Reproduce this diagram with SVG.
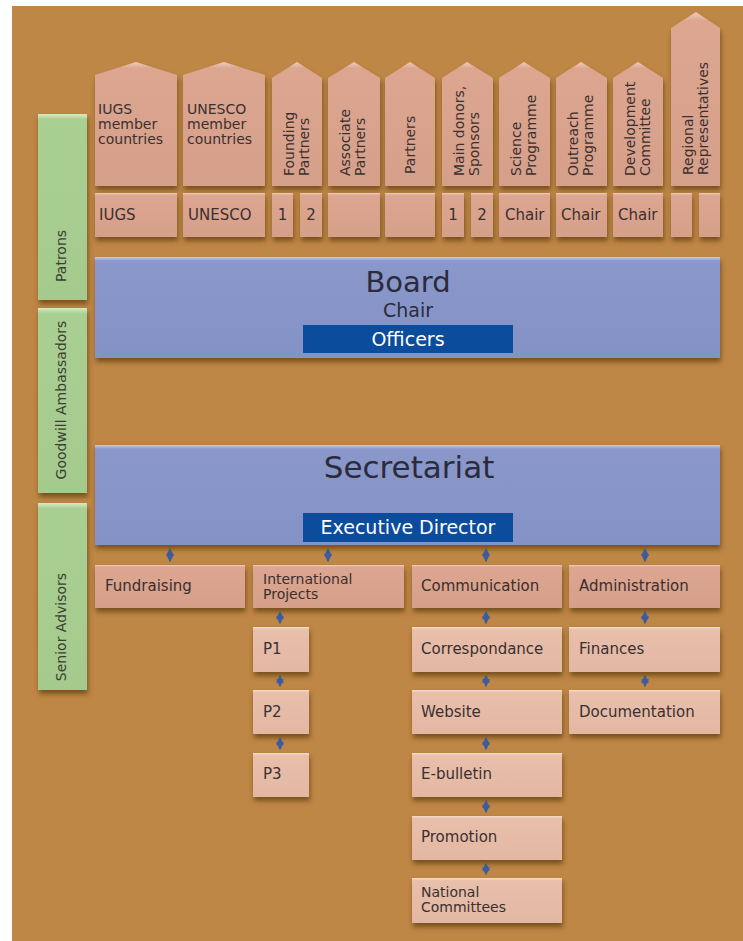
<svg xmlns="http://www.w3.org/2000/svg" width="743" height="941" viewBox="0 0 743 941">
<defs>
<filter id="sh" x="-20%" y="-20%" width="140%" height="150%">
<feDropShadow dx="1" dy="4" stdDeviation="2.5" flood-color="#4a2a05" flood-opacity="0.6"/>
</filter>
<marker id="ah" viewBox="0 0 6 6" refX="5" refY="3" markerWidth="4" markerHeight="4" orient="auto-start-reverse">
<path d="M0,0 L6,3 L0,6 z" fill="#3d5c9c"/>
</marker>
<linearGradient id="gPink" x1="0" y1="0" x2="0" y2="1">
<stop offset="0" stop-color="#f1cdbb"/><stop offset="0.05" stop-color="#dca691"/><stop offset="1" stop-color="#d69f89"/>
</linearGradient>
<linearGradient id="gLight" x1="0" y1="0" x2="0" y2="1">
<stop offset="0" stop-color="#f6dccd"/><stop offset="0.06" stop-color="#e8bfab"/><stop offset="1" stop-color="#e3b8a3"/>
</linearGradient>
<linearGradient id="gBlue" x1="0" y1="0" x2="0" y2="1">
<stop offset="0" stop-color="#c3cbec"/><stop offset="0.04" stop-color="#8a97cb"/><stop offset="1" stop-color="#8592c6"/>
</linearGradient>
<linearGradient id="gGreen" x1="0" y1="0" x2="0" y2="1">
<stop offset="0" stop-color="#d6ecc4"/><stop offset="0.03" stop-color="#a9cf92"/><stop offset="1" stop-color="#a4ca8d"/>
</linearGradient>
</defs>
<style>
.pk{fill:url(#gPink);filter:url(#sh);stroke-linejoin:round}
.lt{fill:url(#gLight);filter:url(#sh)}
.bl{fill:url(#gBlue);filter:url(#sh)}
.gr{fill:url(#gGreen);filter:url(#sh)}
.db{fill:#0b4c9c}
text{font-family:"DejaVu Sans","Verdana",sans-serif;fill:#3a3030}
.t14{font-size:14px}
.t15{font-size:15px}
.r14{font-size:14px}
.big{font-size:30px;fill:#2b2b3a}
.mid{font-size:19px;fill:#2b2b3a}
.wh{font-size:19px;fill:#ffffff}
.gt{font-size:14px;fill:#3a4030}
.cn{stroke:#3d5c9c;stroke-width:2;stroke-dasharray:2 1.5;fill:none;marker-start:url(#ah);marker-end:url(#ah)}
</style>
<rect x="12" y="6" width="731" height="935" fill="#bf8745"/>

<!-- side bars -->
<g id="patrons"><rect class="gr" x="38" y="114" width="49" height="186"/><text class="gt" transform="translate(66,282) rotate(-90)">Patrons</text></g>
<g id="goodwill"><rect class="gr" x="38" y="308" width="49" height="185"/><text class="gt" text-anchor="middle" transform="translate(66,400) rotate(-90)">Goodwill Ambassadors</text></g>
<g id="senior"><rect class="gr" x="38" y="503" width="49" height="187"/><text class="gt" text-anchor="middle" transform="translate(66,627) rotate(-90)">Senior Advisors</text></g>

<!-- top headers -->
<g id="h-iugs"><path class="pk" d="M95,75 L136,62 L177,75 L177,186 L95,186 Z"/><text class="t14" x="98" y="114">IUGS<tspan x="98" y="129">member</tspan><tspan x="98" y="144">countries</tspan></text></g>
<g id="h-unesco"><path class="pk" d="M183,75 L224,62 L265,75 L265,186 L183,186 Z"/><text class="t14" x="187" y="114">UNESCO<tspan x="187" y="129">member</tspan><tspan x="187" y="144">countries</tspan></text></g>
<g id="h-founding"><path class="pk" d="M272,78 L297,62 L322,78 L322,186 L272,186 Z"/><text class="r14" transform="translate(297,176) rotate(-90)"><tspan x="0" y="-3">Founding</tspan><tspan x="0" y="12">Partners</tspan></text></g>
<g id="h-associate"><path class="pk" d="M328,78 L354,62 L380,78 L380,186 L328,186 Z"/><text class="r14" transform="translate(354,176) rotate(-90)"><tspan x="0" y="-4">Associate</tspan><tspan x="0" y="11">Partners</tspan></text></g>
<g id="h-partners"><path class="pk" d="M385,78 L410,62 L435,78 L435,186 L385,186 Z"/><text class="r14" transform="translate(410,174) rotate(-90)"><tspan x="0" y="5">Partners</tspan></text></g>
<g id="h-donors"><path class="pk" d="M442,78 L467,62 L493,78 L493,186 L442,186 Z"/><text class="r14" transform="translate(467,176) rotate(-90)"><tspan x="0" y="-3">Main donors,</tspan><tspan x="0" y="12">Sponsors</tspan></text></g>
<g id="h-science"><path class="pk" d="M499,78 L524,62 L550,78 L550,186 L499,186 Z"/><text class="r14" transform="translate(524,176) rotate(-90)"><tspan x="0" y="-3">Science</tspan><tspan x="0" y="12">Programme</tspan></text></g>
<g id="h-outreach"><path class="pk" d="M556,78 L581,62 L607,78 L607,186 L556,186 Z"/><text class="r14" transform="translate(581,176) rotate(-90)"><tspan x="0" y="-3">Outreach</tspan><tspan x="0" y="12">Programme</tspan></text></g>
<g id="h-development"><path class="pk" d="M613,78 L638,62 L663,78 L663,186 L613,186 Z"/><text class="r14" transform="translate(638,176) rotate(-90)"><tspan x="0" y="-3">Development</tspan><tspan x="0" y="12">Committee</tspan></text></g>
<g id="h-regional"><path class="pk" d="M671,28 L696,12 L720,28 L720,186 L671,186 Z"/><text class="r14" transform="translate(696,175) rotate(-90)"><tspan x="0" y="-3">Regional</tspan><tspan x="0" y="12">Representatives</tspan></text></g>

<!-- second row -->
<g id="b-iugs"><rect class="pk" x="95" y="193" width="82" height="44"/><text class="t15" x="99" y="220">IUGS</text></g>
<g id="b-unesco"><rect class="pk" x="183" y="193" width="82" height="44"/><text class="t15" x="188" y="220">UNESCO</text></g>
<g id="b-f1"><rect class="pk" x="272" y="193" width="21" height="44"/><text class="t15" x="282.5" y="220" text-anchor="middle">1</text></g>
<g id="b-f2"><rect class="pk" x="300" y="193" width="22" height="44"/><text class="t15" x="311" y="220" text-anchor="middle">2</text></g>
<g id="b-assoc"><rect class="pk" x="328" y="193" width="52" height="44"/></g>
<g id="b-partners"><rect class="pk" x="385" y="193" width="50" height="44"/></g>
<g id="b-d1"><rect class="pk" x="442" y="193" width="22" height="44"/><text class="t15" x="453" y="220" text-anchor="middle">1</text></g>
<g id="b-d2"><rect class="pk" x="471" y="193" width="22" height="44"/><text class="t15" x="482" y="220" text-anchor="middle">2</text></g>
<g id="b-sci"><rect class="pk" x="499" y="193" width="51" height="44"/><text class="t15" x="505" y="220">Chair</text></g>
<g id="b-out"><rect class="pk" x="556" y="193" width="51" height="44"/><text class="t15" x="561" y="220">Chair</text></g>
<g id="b-dev"><rect class="pk" x="613" y="193" width="50" height="44"/><text class="t15" x="618" y="220">Chair</text></g>
<g id="b-r1"><rect class="pk" x="671" y="193" width="21" height="44"/></g>
<g id="b-r2"><rect class="pk" x="699" y="193" width="21" height="44"/></g>

<!-- board -->
<g id="board"><rect class="bl" x="95" y="257" width="625" height="101"/>
<text class="big" x="408" y="292" text-anchor="middle" style="font-size:29px">Board</text>
<text class="mid" x="408" y="317" text-anchor="middle">Chair</text>
<rect class="db" x="303" y="325" width="210" height="28"/>
<text class="wh" x="408" y="346" text-anchor="middle">Officers</text></g>

<!-- secretariat -->
<g id="secretariat"><rect class="bl" x="95" y="445" width="625" height="100"/>
<text class="big" x="409" y="478" text-anchor="middle" style="font-size:31px">Secretariat</text>
<rect class="db" x="303" y="513" width="210" height="29"/>
<text class="wh" x="408" y="534" text-anchor="middle">Executive Director</text></g>

<!-- level 2 -->
<g id="fundraising"><rect class="pk" x="95" y="565" width="150" height="43"/><text class="t15" x="105" y="591">Fundraising</text></g>
<g id="intl"><rect class="pk" x="253" y="565" width="151" height="43"/><text class="t14" x="263" y="584">International<tspan x="263" y="599">Projects</tspan></text></g>
<g id="communication"><rect class="pk" x="412" y="565" width="150" height="43"/><text class="t15" x="421" y="591">Communication</text></g>
<g id="administration"><rect class="pk" x="569" y="565" width="151" height="43"/><text class="t15" x="579" y="591">Administration</text></g>

<!-- level 3 -->
<g id="p1"><rect class="lt" x="253" y="627" width="56" height="45"/><text class="t15" x="263" y="654">P1</text></g>
<g id="p2"><rect class="lt" x="253" y="690" width="56" height="44"/><text class="t15" x="263" y="717">P2</text></g>
<g id="p3"><rect class="lt" x="253" y="753" width="56" height="44"/><text class="t15" x="263" y="779">P3</text></g>
<g id="correspondance"><rect class="lt" x="412" y="627" width="150" height="45"/><text class="t15" x="421" y="654">Correspondance</text></g>
<g id="website"><rect class="lt" x="412" y="690" width="150" height="44"/><text class="t15" x="421" y="717">Website</text></g>
<g id="ebulletin"><rect class="lt" x="412" y="753" width="150" height="44"/><text class="t15" x="421" y="779">E-bulletin</text></g>
<g id="promotion"><rect class="lt" x="412" y="816" width="150" height="44"/><text class="t15" x="421" y="842">Promotion</text></g>
<g id="national"><rect class="lt" x="412" y="878" width="150" height="45"/><text class="t14" x="421" y="897">National<tspan x="421" y="912">Committees</tspan></text></g>
<g id="finances"><rect class="lt" x="569" y="627" width="151" height="45"/><text class="t15" x="579" y="654">Finances</text></g>
<g id="documentation"><rect class="lt" x="569" y="690" width="151" height="44"/><text class="t15" x="579" y="717">Documentation</text></g>

<!-- connectors -->
<g id="connectors">
<line class="cn" x1="170" y1="549" x2="170" y2="561"/>
<line class="cn" x1="328" y1="549" x2="328" y2="561"/>
<line class="cn" x1="486" y1="549" x2="486" y2="561"/>
<line class="cn" x1="645" y1="549" x2="645" y2="561"/>
<line class="cn" x1="280" y1="612" x2="280" y2="623"/>
<line class="cn" x1="280" y1="676" x2="280" y2="686"/>
<line class="cn" x1="280" y1="738" x2="280" y2="749"/>
<line class="cn" x1="486" y1="612" x2="486" y2="623"/>
<line class="cn" x1="486" y1="676" x2="486" y2="686"/>
<line class="cn" x1="486" y1="738" x2="486" y2="749"/>
<line class="cn" x1="486" y1="801" x2="486" y2="812"/>
<line class="cn" x1="486" y1="864" x2="486" y2="874"/>
<line class="cn" x1="645" y1="612" x2="645" y2="623"/>
<line class="cn" x1="645" y1="676" x2="645" y2="686"/>
</g>
</svg>
